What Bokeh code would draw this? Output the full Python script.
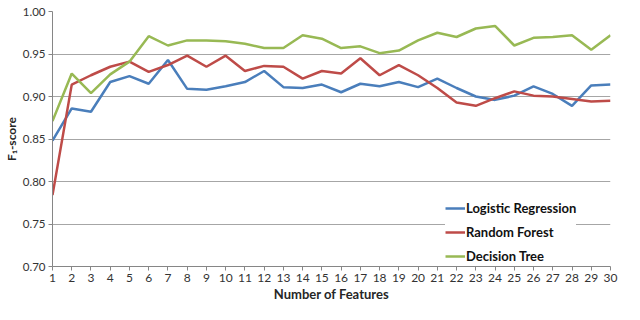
from bokeh.plotting import figure
from bokeh.models import FixedTicker, PrintfTickFormatter, Legend, LegendItem, Range1d
from bokeh.embed import file_html
from bokeh.resources import INLINE

features = list(range(1, 31))
logistic = [0.848, 0.886, 0.882, 0.917, 0.924, 0.915, 0.943, 0.909, 0.908, 0.912,
            0.917, 0.930, 0.911, 0.910, 0.914, 0.905, 0.915, 0.912, 0.917, 0.911,
            0.921, 0.910, 0.900, 0.896, 0.901, 0.912, 0.903, 0.889, 0.913, 0.914]
random_forest = [0.784, 0.914, 0.925, 0.935, 0.941, 0.929, 0.937, 0.948, 0.935, 0.948,
                 0.930, 0.936, 0.935, 0.921, 0.930, 0.927, 0.945, 0.925, 0.937, 0.925,
                 0.910, 0.893, 0.889, 0.898, 0.906, 0.901, 0.900, 0.897, 0.894, 0.895]
decision_tree = [0.871, 0.927, 0.904, 0.926, 0.941, 0.971, 0.960, 0.966, 0.966, 0.965,
                 0.962, 0.957, 0.957, 0.972, 0.968, 0.957, 0.959, 0.951, 0.954, 0.966,
                 0.975, 0.970, 0.980, 0.983, 0.960, 0.969, 0.970, 0.972, 0.955, 0.972]
y_ticks = [0.70, 0.75, 0.80, 0.85, 0.90, 0.95, 1.00]
series_names = ["Logistic Regression", "Random Forest", "Decision Tree"]
colors = ["#4a7ebb", "#be4b48", "#98b954"]

FONT = "Lato"

p = figure(width=624, height=304, output_backend="svg", toolbar_location=None,
           x_range=Range1d(1, 30), y_range=Range1d(0.70, 1.00),
           min_border_left=48, min_border_right=14, min_border_top=11, min_border_bottom=30)
p.outline_line_color = None
p.background_fill_color = "white"
p.border_fill_color = "white"

p.xgrid.grid_line_color = None
p.ygrid.grid_line_color = "#a6a6a6"
p.ygrid.grid_line_width = 1

p.xaxis.ticker = FixedTicker(ticks=features)
p.yaxis.ticker = FixedTicker(ticks=y_ticks)
p.yaxis.formatter = PrintfTickFormatter(format="%.2f")

for ax in (p.xaxis[0], p.yaxis[0]):
    ax.axis_line_color = "#868686"
    ax.major_tick_line_color = "#868686"
    ax.major_tick_out = 4
    ax.major_tick_in = 0
    ax.minor_tick_line_color = None
    ax.major_label_text_font = FONT
    ax.major_label_text_color = "#333333"
    ax.axis_label_text_font = FONT
    ax.axis_label_text_font_style = "bold"
    ax.axis_label_text_color = "#262626"
    ax.major_label_standoff = 3

p.xaxis.major_label_text_font_size = "12px"
p.yaxis.major_label_text_font_size = "11.5px"
p.xaxis.axis_label = "Number of Features"
p.xaxis.axis_label_text_font_size = "13px"
p.xaxis.axis_label_standoff = 1
p.yaxis.axis_label = "F\u2081-score"
p.yaxis.axis_label_text_font_size = "12px"
p.yaxis.axis_label_standoff = 1

items = []
for name, vals, c in zip(series_names, [logistic, random_forest, decision_tree], colors):
    r = p.line(features, vals, line_color=c, line_width=2.5)
    items.append(LegendItem(label=name, renderers=[r]))

legend = Legend(items=items, location=(393, 0), orientation="vertical",
                label_text_font=FONT, label_text_font_style="bold",
                label_text_font_size="13px", label_text_color="#111111",
                glyph_width=20, glyph_height=20, label_height=20,
                label_standoff=1, spacing=4, padding=5, margin=0,
                border_line_color=None, background_fill_color="white",
                background_fill_alpha=1.0)
p.add_layout(legend, "center")

open("out.html", "w").write(file_html(p, INLINE))
